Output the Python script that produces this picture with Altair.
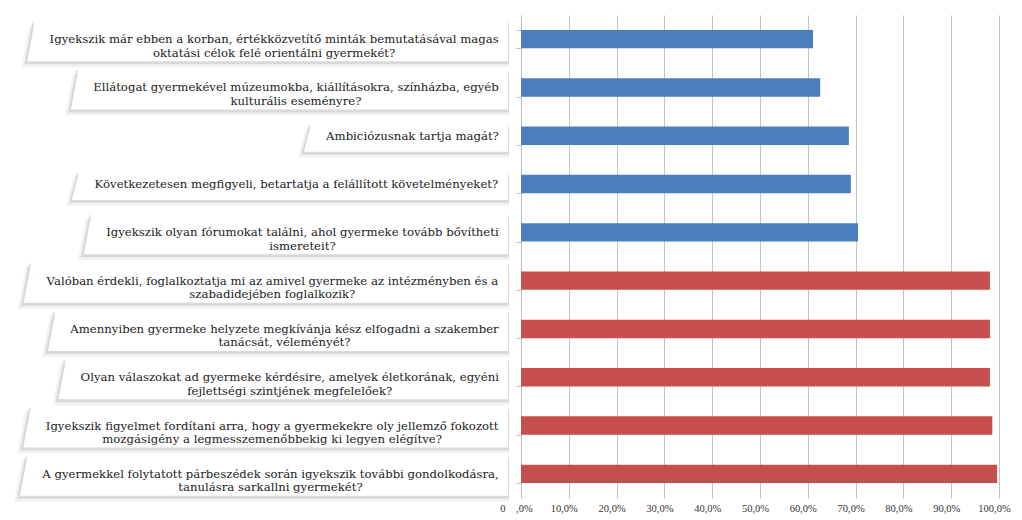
import altair as alt
import pandas as pd

# ---------------- data ----------------
questions = [
    "Igyekszik már ebben a korban, értékközvetítő minták bemutatásával magas|oktatási célok felé orientálni gyermekét?",
    "Ellátogat gyermekével múzeumokba, kiállításokra, színházba, egyéb|kulturális eseményre?",
    "Ambiciózusnak tartja magát?",
    "Következetesen megfigyeli, betartatja a felállított követelményeket?",
    "Igyekszik olyan fórumokat találni, ahol gyermeke tovább bővítheti|ismereteit?",
    "Valóban érdekli, foglalkoztatja mi az amivel gyermeke az intézményben és a|szabadidejében foglalkozik?",
    "Amennyiben gyermeke helyzete megkívánja kész elfogadni a szakember|tanácsát, véleményét?",
    "Olyan válaszokat ad gyermeke kérdésire, amelyek életkorának, egyéni|fejlettségi szintjének megfelelőek?",
    "Igyekszik figyelmet fordítani arra, hogy a gyermekekre oly jellemző fokozott|mozgásigény a legmesszemenőbbekig ki legyen elégítve?",
    "A gyermekkel folytatott párbeszédek során igyekszik további gondolkodásra,|tanulásra sarkallni gyermekét?",
]
values = [0.611, 0.626, 0.686, 0.690, 0.705, 0.981, 0.981, 0.981, 0.986, 0.996]
groups = ["kék", "kék", "kék", "kék", "kék", "piros", "piros", "piros", "piros", "piros"]
group_names = ["kék", "piros"]
group_colors = ["#4a7ebf", "#c44f4d"]
tick_values = [0.0, 0.1, 0.2, 0.3, 0.4, 0.5, 0.6, 0.7, 0.8, 0.9, 1.0]

# ---------------- layout helpers ----------------
FONT = "DejaVu Serif"
FS = 11.7
EM = {
    " ": .318, "a": .596, "b": .640, "c": .560, "d": .640, "e": .592, "f": .370, "g": .640,
    "h": .644, "i": .320, "j": .320, "k": .608, "l": .320, "m": .948, "n": .644, "o": .602,
    "p": .640, "q": .640, "r": .478, "s": .513, "t": .402, "u": .644, "v": .565, "w": .856,
    "x": .564, "y": .565, "z": .525, ",": .318, ".": .318, "?": .536, "A": .722, "E": .735,
    "I": .403, "K": .765, "O": .787, "V": .722, "á": .596, "é": .592, "í": .320, "ó": .602,
    "ö": .602, "ő": .602, "ú": .644, "ü": .644, "ű": .644,
}


def text_width(s):
    return sum(EM.get(c, .6) for c in s) * FS


LEFT_W = 521
TEXT_RIGHT = 499
BOX_RIGHT = 508
H = 483
n = len(questions)
unit = H / n

text_rows, box_rows = [], []
for i, q in enumerate(questions):
    lines = q.split("|")
    w1 = max(text_width(l) for l in lines)
    text_rows.append({"i": i, "label": q, "cx": TEXT_RIGHT - w1 / 2})
    half = (21 if len(lines) > 1 else 15) / unit
    left_bot = TEXT_RIGHT - w1 - 22
    box_rows.append({"id": i, "yy": i - half + 1 / unit, "xl": left_bot + 8, "xr": BOX_RIGHT})
    box_rows.append({"id": i, "yy": i + half + 1 / unit, "xl": left_bot, "xr": BOX_RIGHT})

text_df = pd.DataFrame(text_rows)
box_df = pd.DataFrame(box_rows)
for k, (dx, dy) in enumerate([(3, 3), (6, 6)], start=1):
    box_df[f"sx{k}"] = box_df["xl"] - dx
    box_df[f"sxr{k}"] = box_df["xr"] + 1
    box_df[f"sy{k}"] = box_df["yy"] + dy / unit

bar_df = pd.DataFrame({"question": questions, "value": values, "group": groups})

# ---------------- left panel (labels in boxes) ----------------
xs = alt.Scale(domain=[0, LEFT_W], nice=False, zero=False)
ys = alt.Scale(domain=[-0.5, n - 0.5], reverse=True, nice=False, zero=False)

base_box = alt.Chart(box_df)
shadow2 = base_box.mark_area(orient="horizontal", color="#000000", opacity=0.05).encode(
    y=alt.Y("sy2:Q", scale=ys, axis=None),
    x=alt.X("sx2:Q", scale=xs, axis=None),
    x2="sxr2:Q",
    detail="id:N",
)
shadow1 = base_box.mark_area(orient="horizontal", color="#000000", opacity=0.10).encode(
    y=alt.Y("sy1:Q", scale=ys, axis=None),
    x=alt.X("sx1:Q", scale=xs, axis=None),
    x2="sxr1:Q",
    detail="id:N",
)
boxes = base_box.mark_area(orient="horizontal", color="#ffffff", opacity=1).encode(
    y=alt.Y("yy:Q", scale=ys, axis=None),
    x=alt.X("xl:Q", scale=xs, axis=None),
    x2="xr:Q",
    detail="id:N",
)
labels = alt.Chart(text_df).transform_calculate(
    lines="split(datum.label, '|')"
).mark_text(
    font=FONT, fontSize=FS, align="center", baseline="middle", lineHeight=13.5, color="#222222"
).encode(
    x=alt.X("cx:Q", scale=xs, axis=None),
    y=alt.Y("i:Q", scale=ys, axis=None),
    text="lines:N",
)
left = alt.layer(shadow2, shadow1, boxes, labels).properties(width=LEFT_W, height=H)

# ---------------- right panel (bars) ----------------
label_expr = (
    "datum.value == 0 ? '0\u00a0\u00a0\u00a0\u00a0,0%' : "
    "replace(format(datum.value, '.1%'), '.', ',')"
)
right = alt.Chart(bar_df).mark_bar().encode(
    y=alt.Y(
        "question:N",
        sort=questions,
        scale=alt.Scale(paddingInner=0.62, paddingOuter=0.31),
        axis=alt.Axis(
            labels=False, title=None, tickBand="extent", tickSize=5,
            tickColor="#bdbdbd", domainColor="#bdbdbd", grid=False,
        ),
    ),
    x=alt.X(
        "value:Q",
        scale=alt.Scale(domain=[0, 1], nice=False),
        axis=alt.Axis(
            values=tick_values, labelExpr=label_expr, grid=True, gridColor="#c4c4c4",
            domain=False, ticks=False, title=None, labelFont="Liberation Serif",
            labelFontSize=10.5, labelColor="#333333", labelPadding=5, labelOffset=-5,
            labelFlush=False,
        ),
    ),
    color=alt.Color(
        "group:N", scale=alt.Scale(domain=group_names, range=group_colors), legend=None
    ),
).properties(width=478, height=H)

chart = alt.hconcat(left, right, spacing=0, bounds="flush").configure_view(
    stroke=None
).properties(padding={"left": 0, "top": 15, "right": 0, "bottom": 0})

chart.save("out.html", embed_options={"renderer": "svg", "actions": False})
